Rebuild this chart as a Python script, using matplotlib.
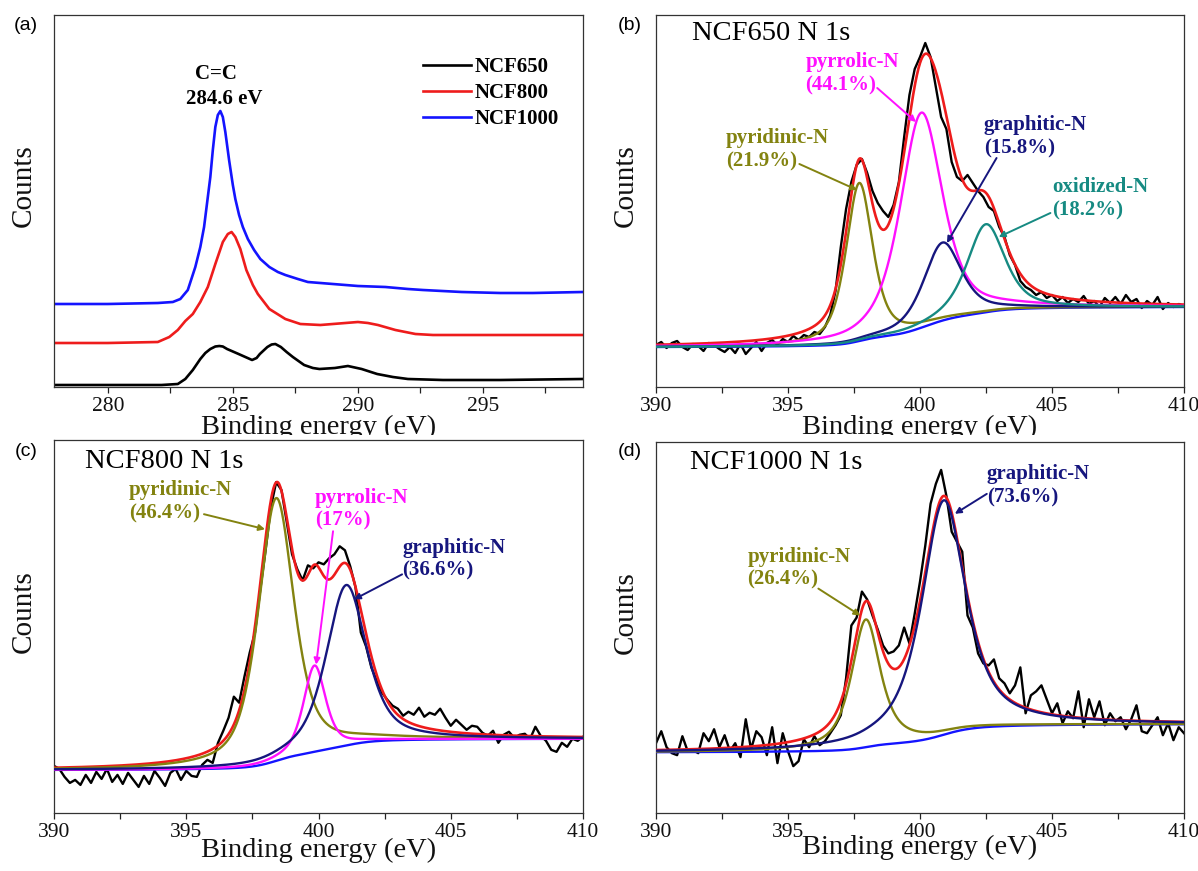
import numpy as np
import matplotlib
matplotlib.use("Agg")
import matplotlib.pyplot as plt
from matplotlib.patches import Rectangle
from matplotlib.ticker import MultipleLocator

SERIF = ["Liberation Serif", "DejaVu Serif"]
SANS = ["Liberation Sans", "DejaVu Sans"]
plt.rcParams["font.family"] = SERIF

# ---------------------------------------------------------------- (a) C 1s
c1s_names = ["NCF650", "NCF800", "NCF1000"]

ncf650_c1s_energy = [277.85, 280.0, 282.15, 282.8, 283.1, 283.4, 283.7, 283.9, 284.1, 284.3,
                     284.46, 284.6, 284.77, 285.0, 285.23, 285.5, 285.77, 285.95, 286.08, 286.38,
                     286.55, 286.7, 286.92, 287.15, 287.4, 287.85, 288.2, 288.46, 289.08, 289.6,
                     290.15, 290.77, 291.4, 292.0, 293.4, 295.7, 299.0]
ncf650_c1s_counts = [2, 2, 2, 3, 8, 17, 28, 34, 38, 40.5,
                     41, 40.5, 38, 35.5, 33, 30, 27, 29, 33, 40,
                     42.5, 43, 40, 35, 30, 22, 19, 18, 19, 21,
                     18, 13, 10, 8, 7, 7, 8]

ncf800_c1s_energy = [277.85, 280.0, 282.0, 282.46, 282.8, 283.1, 283.4, 283.7, 284.0, 284.3,
                     284.6, 284.8, 284.95, 285.1, 285.3, 285.54, 285.8, 286.0, 286.46, 287.1,
                     287.7, 288.5, 289.0, 289.5, 290.0, 290.4, 290.8, 291.5, 292.3, 293.0,
                     294.15, 299.0]
ncf800_c1s_counts = [44, 44, 45, 50, 57, 66, 73, 85, 100, 123,
                     145, 153, 155, 150, 138, 117, 102, 93, 78, 68,
                     63, 62, 63, 64, 65, 64, 62, 57, 53, 52,
                     52, 52]

ncf1000_c1s_energy = [277.85, 280.0, 282.0, 282.6, 282.9, 283.2, 283.5, 283.7, 283.85, 284.0,
                      284.1, 284.2, 284.3, 284.4, 284.5, 284.6, 284.7, 284.85, 285.0, 285.1,
                      285.25, 285.4, 285.6, 285.85, 286.1, 286.46, 286.8, 287.1, 287.6, 288.0,
                      289.0, 289.5, 290.0, 291.1, 292.0, 292.6, 294.15, 295.7, 297.0, 299.0]
ncf1000_c1s_counts = [83, 83, 84, 85, 88, 97, 120, 140, 160, 190,
                      210, 237, 260, 272, 276, 270, 255, 227, 202, 188,
                      172, 160, 148, 137, 128, 120, 115, 112, 108, 105,
                      103, 102, 101, 100, 98, 97, 95, 94, 94, 95]

# ---------------------------------------------------------------- N 1s raw counts (390-410 eV)
ncf650_n1s_counts = [
    42, 45, 39, 44, 46, 40, 37, 43, 41, 36,
    44, 42, 38, 35, 40, 34, 43, 33, 39, 45,
    36, 44, 47, 42, 48, 45, 51, 47, 52, 50,
    55, 53, 60, 72, 96, 140, 178, 205, 222, 228,
    214, 196, 184, 176, 170, 182, 205, 250, 292, 318,
    330, 344, 330, 300, 270, 258, 225, 210, 206, 212,
    204, 196, 190, 180, 176, 160, 150, 132, 122, 106,
    100, 97, 92, 95, 89, 92, 86, 90, 84, 88,
    85, 91, 83, 86, 80, 89, 84, 90, 83, 92,
    85, 88, 79, 86, 82, 90, 78, 84, 80, 83,
    81]
ncf800_n1s_counts = [
    47, 44, 36, 30, 33, 28, 38, 30, 41, 34,
    44, 31, 38, 29, 40, 33, 26, 37, 29, 42,
    35, 27, 40, 44, 33, 42, 37, 36, 48, 53,
    50, 70, 82, 95, 116, 110, 136, 160, 180, 223,
    262, 305, 330, 322, 290, 258, 243, 232, 247, 244,
    250, 248, 254, 258, 266, 262, 246, 225, 180, 166,
    145, 132, 120, 113, 107, 104, 97, 101, 98, 105,
    96, 100, 98, 104, 95, 87, 93, 88, 83, 87,
    86, 80, 77, 82, 70, 78, 81, 75, 78, 79,
    74, 86, 77, 72, 63, 61, 70, 66, 74, 72,
    76]
ncf1000_n1s_counts = [
    70, 82, 66, 60, 58, 77, 62, 63, 60, 80,
    72, 84, 66, 78, 62, 70, 56, 94, 64, 82,
    76, 58, 86, 50, 80, 62, 47, 52, 74, 66,
    77, 68, 72, 80, 88, 98, 135, 188, 196, 222,
    214, 198, 184, 168, 160, 162, 168, 186, 170, 200,
    232, 268, 310, 330, 344, 318, 282, 272, 262, 198,
    186, 160, 150, 148, 154, 135, 130, 120, 128, 146,
    100, 118, 122, 128, 114, 100, 110, 90, 102, 95,
    122, 86, 114, 96, 112, 88, 100, 92, 96, 84,
    94, 108, 82, 80, 88, 96, 78, 90, 73, 86,
    80]

# ---------------------------------------------------------------- N 1s peak fits
ncf650_species = ["pyridinic-N", "pyrrolic-N", "graphitic-N", "oxidized-N"]
ncf650_percent = ["21.9%", "44.1%", "15.8%", "18.2%"]
ncf650_center = [397.7, 400.05, 400.85, 402.5]
ncf650_height = [158, 215, 78, 88]
ncf650_fwhm = [1.2, 1.9, 1.7, 1.7]
ncf650_lorentz = 0.6
ncf650_background = [40, 80]

ncf800_species = ["pyridinic-N", "pyrrolic-N", "graphitic-N"]
ncf800_percent = ["46.4%", "17%", "36.6%"]
ncf800_center = [398.4, 399.85, 401.05]
ncf800_height = [262, 86, 160]
ncf800_fwhm = [1.6, 1.0, 1.8]
ncf800_lorentz = 0.6
ncf800_background = [43, 74]

ncf1000_species = ["pyridinic-N", "graphitic-N"]
ncf1000_percent = ["26.4%", "73.6%"]
ncf1000_center = [397.95, 400.9]
ncf1000_height = [128, 235]
ncf1000_fwhm = [1.3, 2.0]
ncf1000_lorentz = 0.75
ncf1000_background = [61, 89]

RED = "#ee1c1c"
BLUE = "#1414ff"
SPECIES_COLOR = {"pyridinic-N": "#838310", "pyrrolic-N": "#ff10ff",
                 "graphitic-N": "#16167e", "oxidized-N": "#168a82"}
C1S_COLOR = {"NCF650": "black", "NCF800": RED, "NCF1000": BLUE}

LW = 1.7
YMAX = 372


def pseudo_voigt(e, center, height, fwhm, mix):
    u = (e - center) / fwhm
    return height * ((1 - mix) * np.exp(-4 * np.log(2) * u ** 2) + mix / (1 + 4 * u ** 2))


def style_axis(ax, xlim, xlabel_y):
    ax.set_xlim(*xlim)
    ax.set_ylim(0, YMAX)
    ax.xaxis.set_major_locator(MultipleLocator(5))
    ax.xaxis.set_minor_locator(MultipleLocator(2.5))
    ax.set_yticks([])
    ax.tick_params(axis="x", which="both", direction="out", length=4.5, width=0.9,
                   top=False, pad=2.5, labelsize=15.5, colors="#222222", labelcolor="#111111")
    for sp in ax.spines.values():
        sp.set_linewidth(0.9)
        sp.set_color("#333333")
    ax.set_xlabel("Binding energy (eV)", fontsize=20.5, color="#111111")
    ax.xaxis.set_label_coords(0.5, xlabel_y)
    ax.xaxis.label.set_va("center")
    ax.set_ylabel("Counts", fontsize=21, color="#111111")
    ax.yaxis.set_label_coords(-0.057, 0.54)
    ax.yaxis.label.set_va("center")


def draw_n1s(ax, counts, species, center, height, fwhm, mix, background):
    e_raw = np.linspace(390, 410, len(counts))
    e = np.linspace(390, 410, 1001)
    comps = [pseudo_voigt(e, c, h, w, mix) for c, h, w in zip(center, height, fwhm)]
    total = np.sum(comps, axis=0)
    cum = np.cumsum(total)
    bg = background[0] + (background[1] - background[0]) * cum / cum[-1]
    ax.plot(e_raw, counts, color="black", lw=LW, zorder=2)
    ax.plot(e, bg + total, color=RED, lw=LW + 0.2, zorder=3)
    ax.plot(e, bg, color=BLUE, lw=LW, zorder=4)
    for name, comp in zip(species, comps):
        ax.plot(e, bg + comp, color=SPECIES_COLOR[name], lw=LW, zorder=5)


def label(ax, name, pct, xy_text, xy_from, xy_to):
    col = SPECIES_COLOR[name]
    ax.text(xy_text[0], xy_text[1], f"{name}\n({pct})", color=col, fontsize=15,
            fontweight="bold", ha="left", va="center", linespacing=1.2, zorder=6)
    ax.annotate("", xy=xy_to, xytext=xy_from,
                arrowprops=dict(arrowstyle="-|>", color=col, lw=1.4, mutation_scale=9,
                                shrinkA=0, shrinkB=0), zorder=6)


fig = plt.figure(figsize=(11.98, 8.71), dpi=100)
W, H = 1198.0, 871.0


def add_axes(x0, y_top, x1, y_bot):
    return fig.add_axes([x0 / W, 1 - y_bot / H, (x1 - x0) / W, (y_bot - y_top) / H])


ax_a = add_axes(54, 15, 583, 387)
ax_b = add_axes(656, 15, 1184, 387)
ax_c = add_axes(54, 440, 583, 813)
ax_d = add_axes(656, 442, 1184, 813)
for ax in (ax_c, ax_d):
    ax.set_zorder(1)

# white band separating the rows (upper x-labels run into it)
fig.patches.append(Rectangle((0, 0), 1, 1 - 435 / H, transform=fig.transFigure,
                             facecolor="white", edgecolor="none", zorder=0.5))

# ---- (a)
c1s_data = {"NCF650": (ncf650_c1s_energy, ncf650_c1s_counts),
            "NCF800": (ncf800_c1s_energy, ncf800_c1s_counts),
            "NCF1000": (ncf1000_c1s_energy, ncf1000_c1s_counts)}
for name in c1s_names:
    e, c = c1s_data[name]
    ax_a.plot(e, c, color=C1S_COLOR[name], lw=LW + 0.2, label=name,
              solid_joinstyle="round")
style_axis(ax_a, (277.85, 299), -0.108)
ax_a.legend(frameon=False, loc="upper left", bbox_to_anchor=(0.682, 0.909),
            prop={"family": SERIF, "weight": "bold", "size": 15},
            handlelength=2.3, handletextpad=0.15, labelspacing=0.28, borderaxespad=0)
ax_a.text(284.32, 313, "C=C", ha="center", va="center", fontsize=15, fontweight="bold")
ax_a.text(284.64, 288, "284.6 eV", ha="center", va="center", fontsize=15, fontweight="bold")

# ---- (b)
draw_n1s(ax_b, ncf650_n1s_counts, ncf650_species, ncf650_center, ncf650_height,
         ncf650_fwhm, ncf650_lorentz, ncf650_background)
style_axis(ax_b, (390, 410), -0.108)
ax_b.text(391.36, 354, "NCF650 N 1s", fontsize=20.5, ha="left", va="center")
label(ax_b, "pyrrolic-N", ncf650_percent[1], (395.66, 313), (398.38, 299), (399.85, 265))
label(ax_b, "pyridinic-N", ncf650_percent[0], (392.64, 237), (395.43, 223), (397.62, 197))
label(ax_b, "graphitic-N", ncf650_percent[2], (402.42, 250.5), (402.9, 229), (401.02, 144))
label(ax_b, "oxidized-N", ncf650_percent[3], (405.02, 188.5), (404.94, 174), (402.98, 150))

# ---- (c)
draw_n1s(ax_c, ncf800_n1s_counts, ncf800_species, ncf800_center, ncf800_height,
         ncf800_fwhm, ncf800_lorentz, ncf800_background)
style_axis(ax_c, (390, 410), -0.099)
ax_c.text(391.17, 351, "NCF800 N 1s", fontsize=20.5, ha="left", va="center")
label(ax_c, "pyridinic-N", ncf800_percent[0], (392.84, 310.5), (395.67, 298), (397.98, 283))
label(ax_c, "pyrrolic-N", ncf800_percent[1], (399.87, 303), (400.55, 281), (399.91, 148))
label(ax_c, "graphitic-N", ncf800_percent[2], (403.16, 253), (403.16, 238), (401.34, 213))

# ---- (d)
draw_n1s(ax_d, ncf1000_n1s_counts, ncf1000_species, ncf1000_center, ncf1000_height,
         ncf1000_fwhm, ncf1000_lorentz, ncf1000_background)
style_axis(ax_d, (390, 410), -0.094)
ax_d.text(391.28, 351, "NCF1000 N 1s", fontsize=20.5, ha="left", va="center")
label(ax_d, "graphitic-N", ncf1000_percent[1], (402.53, 328), (402.53, 320), (401.32, 300))
label(ax_d, "pyridinic-N", ncf1000_percent[0], (393.47, 245.5), (396.15, 225), (397.74, 198))

# panel letters
for txt, (px, py) in {"(a)": (26, 26), "(b)": (630, 26), "(c)": (26, 451), "(d)": (630, 451)}.items():
    fig.text(px / W, 1 - py / H, txt, family=SANS, fontsize=14, ha="center", va="center",
             zorder=3)

fig.savefig("out.png", dpi=100, facecolor="white")
